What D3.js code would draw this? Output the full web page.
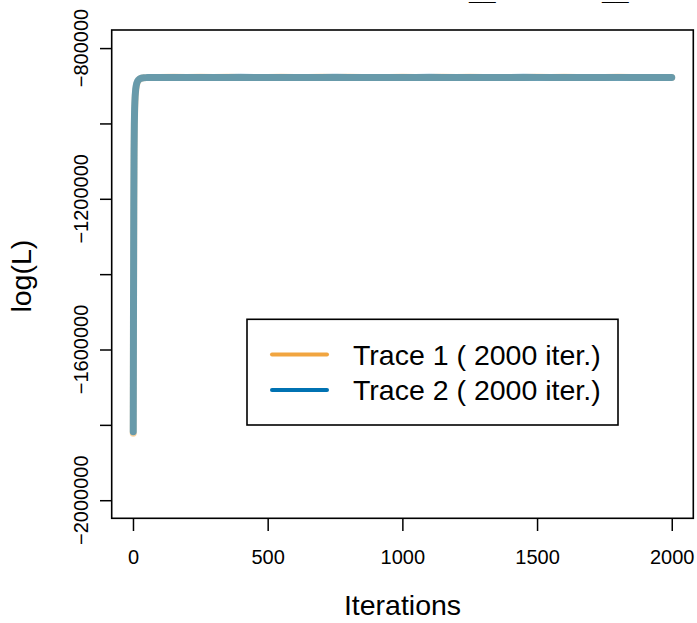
<!DOCTYPE html>
<html>
<head>
<meta charset="utf-8">
<script src="https://cdn.jsdelivr.net/npm/d3@7"></script>
<style>
  body { margin: 0; background: #fff; }
  svg { display: block; font-family: "Liberation Sans", Arial, Helvetica, sans-serif; }
</style>
</head>
<body>
<svg id="chart" width="697" height="623"></svg>
<script>
const iterations = [1, 2, 3, 4, 5, 6, 7, 8, 10, 12, 14, 17, 20, 25, 30, 35, 40, 50, 60, 80, 100,
  150, 200, 250, 300, 350, 400, 450, 500, 550, 600, 650, 700, 750, 800, 850, 900, 950, 1000,
  1050, 1100, 1150, 1200, 1250, 1300, 1350, 1400, 1450, 1500, 1550, 1600, 1650, 1700, 1750,
  1800, 1850, 1900, 1950, 2000];

const trace1 = [-1822000, -1480000, -1240000, -1090000, -1015000, -970000, -948000, -932000,
  -912000, -902000, -895000, -889000, -885500, -882000, -880300, -879400, -878900, -878400,
  -878200, -878000, -877900,
  -877600, -878100, -877700, -878300, -877500, -878000, -877800, -878200, -877600, -877900,
  -878300, -877700, -878000, -877500, -878100, -877800, -878200, -877600, -877900, -878300,
  -877700, -878000, -877600, -878200, -877800, -877900, -878100, -877700, -878000, -877600,
  -878300, -877800, -878000, -877700, -878100, -877900, -877800, -878000];

const trace2 = [-1818000, -1460000, -1220000, -1075000, -1005000, -962000, -942000, -928000,
  -909000, -900000, -893500, -888000, -885000, -881800, -880100, -879300, -878800, -878400,
  -878300, -878100, -878000,
  -878200, -877900, -878300, -877800, -878100, -877700, -878200, -877900, -878300, -877800,
  -878000, -878200, -877700, -878100, -877900, -878300, -877800, -878000, -878200, -877700,
  -878100, -877900, -878300, -877800, -878000, -878200, -877700, -878100, -877900, -878200,
  -877800, -878000, -878100, -877900, -878200, -877800, -878000, -878100];

const seriesNames = ["Trace 1 ( 2000 iter.)", "Trace 2 ( 2000 iter.)"];
const seriesColors = ["#F1A540", "#0072B2"];
const seriesOpacity = [0.5, 0.58];

const xTicks = [0, 500, 1000, 1500, 2000];
const yTicks = [-2000000, -1800000, -1600000, -1400000, -1200000, -1000000, -800000];
const yLabelled = [-2000000, -1600000, -1200000, -800000];

const svg = d3.select("#chart");
const margin = { top: 30, right: 3.7, bottom: 104.7, left: 111.7 };
const width = 697 - margin.left - margin.right;
const height = 623 - margin.top - margin.bottom;

const x = d3.scaleLinear().domain([-79, 2080]).range([margin.left, margin.left + width]);
const y = d3.scaleLinear().domain([-2048000, -752000]).range([margin.top + height, margin.top]);

// traces
const line = d3.line()
  .x((d, i) => x(iterations[i]))
  .y(d => y(d));

[trace1, trace2].forEach((s, k) => {
  svg.append("path")
    .attr("d", line(s))
    .attr("fill", "none")
    .attr("stroke", seriesColors[k])
    .attr("stroke-opacity", seriesOpacity[k])
    .attr("stroke-width", 7)
    .attr("stroke-linecap", "round")
    .attr("stroke-linejoin", "round");
});

// plot box
svg.append("rect")
  .attr("x", margin.left).attr("y", margin.top)
  .attr("width", width).attr("height", height)
  .attr("fill", "none").attr("stroke", "#000").attr("stroke-width", 1.6);

// x axis
const xAxis = svg.append("g")
  .attr("transform", `translate(0,${margin.top + height})`)
  .call(d3.axisBottom(x).tickValues(xTicks).tickSize(12.7).tickPadding(19).tickFormat(d3.format("d")))
  .attr("font-family", null).attr("font-size", null);
xAxis.select(".domain").remove();
xAxis.selectAll("line").attr("stroke-width", 1.5);
xAxis.selectAll("text").attr("font-size", 20).attr("fill", "#000");

// y axis
const yAxis = svg.append("g")
  .attr("transform", `translate(${margin.left},0)`)
  .call(d3.axisLeft(y).tickValues(yTicks).tickSize(11.7).tickFormat(""));
yAxis.select(".domain").remove();
yAxis.selectAll("line").attr("stroke-width", 1.5);

svg.append("g").selectAll("text")
  .data(yLabelled)
  .join("text")
  .attr("transform", d => `translate(88,${y(d)}) rotate(-90)`)
  .attr("text-anchor", "middle")
  .attr("font-size", 20)
  .text(d3.format("d"));

// axis titles
svg.append("text")
  .attr("x", margin.left + width / 2).attr("y", 615)
  .attr("text-anchor", "middle").attr("font-size", 28.5)
  .text("Iterations");

svg.append("text")
  .attr("transform", `translate(31,${margin.top + height / 2 + 2}) rotate(-90)`)
  .attr("text-anchor", "middle").attr("font-size", 28.5)
  .text("log(L)");

// title, clipped by the top edge: only its underscores show
svg.selectAll(".title")
  .data([469, 602])
  .join("text")
  .attr("class", "title")
  .attr("x", d => d).attr("y", 0)
  .attr("font-size", 24).attr("font-weight", "bold")
  .text("__");

// legend
const legend = svg.append("g");
legend.append("rect")
  .attr("x", 247).attr("y", 319.3).attr("width", 371).attr("height", 105.7)
  .attr("fill", "#fff").attr("stroke", "#000").attr("stroke-width", 1.6);

const rowY = [354.5, 390];
seriesNames.forEach((name, k) => {
  legend.append("line")
    .attr("x1", 272).attr("x2", 327)
    .attr("y1", rowY[k]).attr("y2", rowY[k])
    .attr("stroke", seriesColors[k]).attr("stroke-width", 4)
    .attr("stroke-linecap", "round");
  legend.append("text")
    .attr("x", 353).attr("y", rowY[k] + 10)
    .attr("font-size", 28.5)
    .text(name);
});
</script>
</body>
</html>
